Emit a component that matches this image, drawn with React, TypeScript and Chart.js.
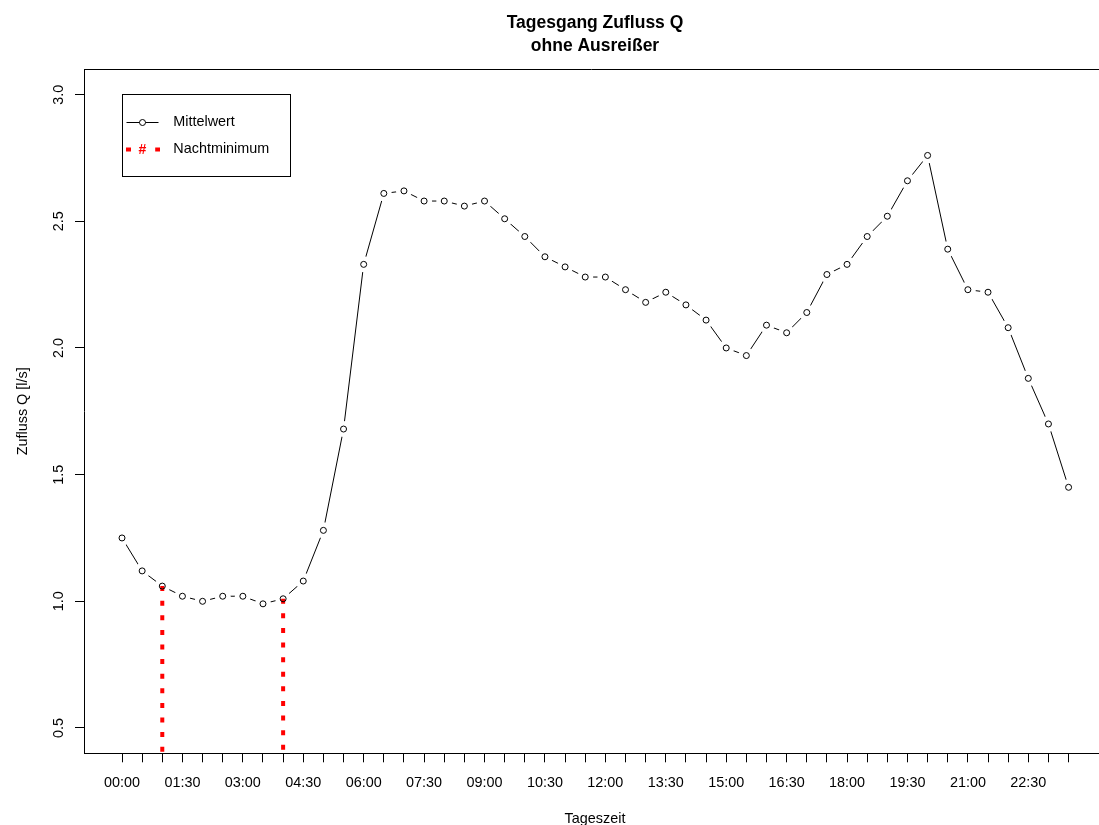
import React, { useEffect, useRef } from "react";
import { Chart, registerables } from "chart.js";

Chart.register(...registerables);

const times: string[] = [
  "00:00", "00:30", "01:00", "01:30", "02:00", "02:30", "03:00", "03:30",
  "04:00", "04:30", "05:00", "05:30", "06:00", "06:30", "07:00", "07:30",
  "08:00", "08:30", "09:00", "09:30", "10:00", "10:30", "11:00", "11:30",
  "12:00", "12:30", "13:00", "13:30", "14:00", "14:30", "15:00", "15:30",
  "16:00", "16:30", "17:00", "17:30", "18:00", "18:30", "19:00", "19:30",
  "20:00", "20:30", "21:00", "21:30", "22:00", "22:30", "23:00", "23:30",
];

const mittelwert: number[] = [
  1.25, 1.12, 1.06, 1.02, 1.0, 1.02, 1.02, 0.99,
  1.01, 1.08, 1.28, 1.68, 2.33, 2.61, 2.62, 2.58,
  2.58, 2.56, 2.58, 2.51, 2.44, 2.36, 2.32, 2.28,
  2.28, 2.23, 2.18, 2.22, 2.17, 2.11, 2.0, 1.97,
  2.09, 2.06, 2.14, 2.29, 2.33, 2.44, 2.52, 2.66,
  2.76, 2.39, 2.23, 2.22, 2.08, 1.88, 1.7, 1.45,
];

const xTickLabels: string[] = [
  "00:00", "01:30", "03:00", "04:30", "06:00", "07:30", "09:00", "10:30",
  "12:00", "13:30", "15:00", "16:30", "18:00", "19:30", "21:00", "22:30",
];

const yTickValues: number[] = [0.5, 1.0, 1.5, 2.0, 2.5, 3.0];
const yTickLabels: string[] = ["0.5", "1.0", "1.5", "2.0", "2.5", "3.0"];

const nachtminimumTimes: string[] = ["01:00", "04:00"];

const titleLines: string[] = ["Tagesgang Zufluss Q", "ohne Ausreißer"];
const xTitle = "Tageszeit";
const yTitle = "Zufluss Q [l/s]";
const legendLabels: string[] = ["Mittelwert", "Nachtminimum"];

const FONT = '"Liberation Sans", Arial, sans-serif';
const RED = "#ff0000";

export default function App() {
  const ref = useRef<HTMLCanvasElement | null>(null);

  useEffect(() => {
    const canvas = ref.current;
    if (!canvas) return;

    const mkPts = () => mittelwert.map((v, i) => ({ x: i, y: v }));
    const redSets = nachtminimumTimes.map((t) => {
      const i = times.indexOf(t);
      return {
        type: "line" as const,
        data: [
          { x: i, y: mittelwert[i] },
          { x: i, y: 0.4 },
        ],
        borderColor: RED,
        borderWidth: 4,
        borderDash: [5, 9.6],
        pointRadius: 0,
        showLine: true,
        order: 1,
        fill: false,
      };
    });

    const decor = {
      id: "decor",
      afterDraw(chart: any) {
        const ctx = chart.ctx as CanvasRenderingContext2D;
        const ca = chart.chartArea;
        const xs = chart.scales.x;
        const ys = chart.scales.y;
        ctx.save();
        ctx.fillStyle = "#000";
        ctx.strokeStyle = "#000";

        // top border of box
        ctx.lineWidth = 1;
        ctx.beginPath();
        ctx.moveTo(ca.left, Math.round(ca.top) + 0.5);
        ctx.lineTo(ca.right, Math.round(ca.top) + 0.5);
        ctx.stroke();

        // title
        ctx.font = `bold 17.5px ${FONT}`;
        ctx.textAlign = "center";
        ctx.textBaseline = "alphabetic";
        const cx = 595;
        ctx.fillText(titleLines[0], cx, 27.5);
        ctx.fillText(titleLines[1], cx, 50.5);

        // x tick labels
        ctx.font = `14.4px ${FONT}`;
        xTickLabels.forEach((lab) => {
          const i = times.indexOf(lab);
          ctx.fillText(lab, xs.getPixelForValue(i), 786.7);
        });

        // x title
        ctx.fillText(xTitle, cx, 822.5);

        // y tick labels (rotated)
        yTickValues.forEach((v, k) => {
          ctx.save();
          ctx.translate(62.7, ys.getPixelForValue(v));
          ctx.rotate(-Math.PI / 2);
          ctx.fillText(yTickLabels[k], 0, 0);
          ctx.restore();
        });

        // y title
        ctx.save();
        ctx.translate(27.3, (ca.top + ca.bottom) / 2);
        ctx.rotate(-Math.PI / 2);
        ctx.fillText(yTitle, 0, 0);
        ctx.restore();

        // legend
        const bx = 122.5, by = 94.5, bw = 168, bh = 82;
        ctx.lineWidth = 1;
        ctx.strokeRect(bx, by, bw, bh);
        const y1 = 122.5, y2 = 149.5;
        // entry 1
        ctx.beginPath();
        ctx.moveTo(126.5, y1);
        ctx.lineTo(158.5, y1);
        ctx.stroke();
        ctx.fillStyle = "#fff";
        ctx.beginPath();
        ctx.arc(142.5, y1, 3, 0, Math.PI * 2);
        ctx.fill();
        ctx.stroke();
        // entry 2
        ctx.strokeStyle = RED;
        ctx.lineWidth = 4;
        ctx.setLineDash([5, 9.6]);
        ctx.beginPath();
        ctx.moveTo(126, y2);
        ctx.lineTo(160, y2);
        ctx.stroke();
        ctx.setLineDash([]);
        ctx.fillStyle = "#fff";
        ctx.fillRect(137, y2 - 5, 11, 10);
        ctx.fillStyle = RED;
        ctx.font = `bold 14px ${FONT}`;
        ctx.textAlign = "center";
        ctx.textBaseline = "middle";
        ctx.fillText("#", 142.5, y2 + 0.5);
        // texts
        ctx.fillStyle = "#000";
        ctx.font = `14.4px ${FONT}`;
        ctx.textAlign = "left";
        ctx.fillText(legendLabels[0], 173.3, y1);
        ctx.fillText(legendLabels[1], 173.3, y2);

        ctx.restore();
      },
    };

    const chart = new Chart(canvas, {
      type: "line",
      data: {
        datasets: [
          {
            data: mkPts(),
            showLine: false,
            pointRadius: 3,
            pointBorderWidth: 1,
            pointBorderColor: "#000",
            pointBackgroundColor: "rgba(255,255,255,0)",
            pointHoverRadius: 3,
            order: 0,
          },
          ...redSets,
          {
            data: mkPts(),
            showLine: false,
            pointRadius: 8,
            pointBorderWidth: 0,
            pointBackgroundColor: "#fff",
            pointBorderColor: "#fff",
            order: 2,
          },
          {
            data: mkPts(),
            showLine: true,
            borderColor: "#000",
            borderWidth: 1,
            pointRadius: 0,
            tension: 0,
            order: 3,
          },
        ] as any,
      },
      options: {
        responsive: false,
        animation: false,
        events: [],
        layout: { autoPadding: false, padding: { top: 69.3, left: 0, right: 0, bottom: 0 } },
        plugins: {
          legend: { display: false },
          title: { display: false },
          tooltip: { enabled: false },
        },
        scales: {
          x: {
            type: "linear",
            position: "bottom",
            min: -1.887,
            max: 48.51,
            afterBuildTicks: (s: any) => {
              s.ticks = times.map((_, i) => ({ value: i }));
            },
            afterFit: (s: any) => {
              s.height = 825 - 753.3;
            },
            ticks: { display: false, autoSkip: false },
            grid: {
              drawOnChartArea: false,
              drawTicks: true,
              tickLength: 9,
              color: "#000",
              lineWidth: 1,
            },
            border: { display: true, color: "#000", width: 1 },
          },
          y: {
            type: "linear",
            min: 0.4,
            max: 3.1,
            afterBuildTicks: (s: any) => {
              s.ticks = yTickValues.map((v) => ({ value: v }));
            },
            afterFit: (s: any) => {
              s.width = 84;
            },
            ticks: { display: false },
            grid: {
              drawOnChartArea: false,
              drawTicks: true,
              tickLength: 9,
              color: "#000",
              lineWidth: 1,
            },
            border: { display: true, color: "#000", width: 1 },
          },
        },
      } as any,
      plugins: [decor],
    });

    return () => chart.destroy();
  }, []);

  return (
    <div style={{ position: "fixed", left: 0, top: 0, width: 1099, height: 825, background: "#fff" }}>
      <canvas ref={ref} width={1099} height={825} style={{ display: "block" }} />
    </div>
  );
}
